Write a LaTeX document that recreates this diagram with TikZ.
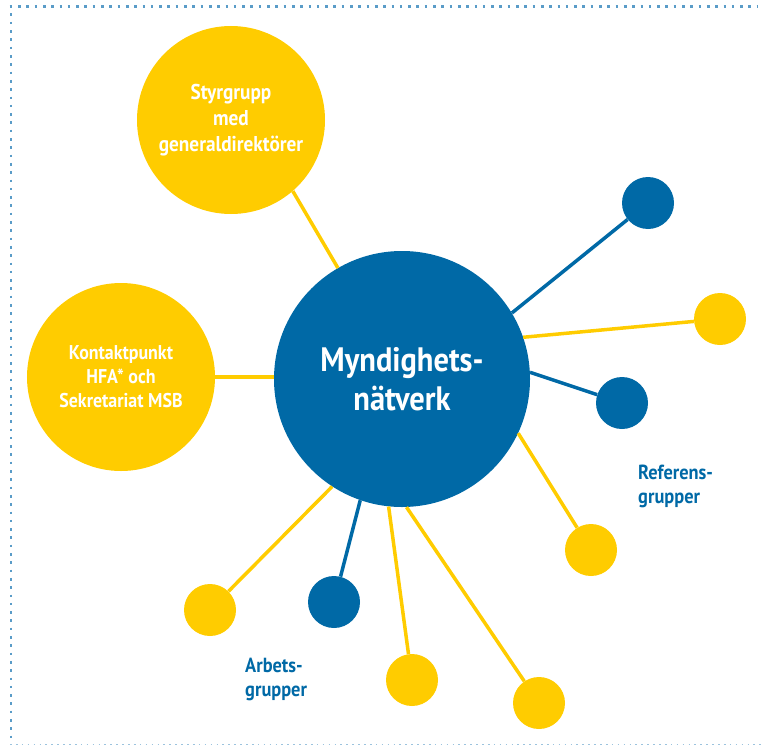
\documentclass[tikz,border=0pt]{standalone}
\usepackage{fontspec}
\setmainfont{PT Sans}[FakeStretch=0.9]
\definecolor{myyellow}{HTML}{FFCC00}
\definecolor{myblue}{HTML}{0069A6}
\definecolor{dotblue}{HTML}{5A9CC8}
\definecolor{dotlight}{HTML}{9CC3DE}
\tikzset{
  bigc/.style={circle, fill=myblue, minimum size=256bp, inner sep=0pt, text=white, align=center,
    font=\bfseries\fontsize{34}{39}\selectfont},
  midc/.style={circle, fill=myyellow, minimum size=188bp, inner sep=0pt, text=white, align=center},
  ydot/.style={circle, fill=myyellow, minimum size=52bp, inner sep=0pt},
  bdot/.style={circle, fill=myblue, minimum size=52bp, inner sep=0pt},
  conY/.style={draw=myyellow, line width=3.5bp},
  conB/.style={draw=myblue, line width=3.5bp},
  grplab/.style={text=myblue, align=left, inner sep=0pt, anchor=north west,
    font=\bfseries\fontsize{20.5}{24}\selectfont}
}
\begin{document}
\begin{tikzpicture}[x=1bp,y=-1bp]
\useasboundingbox (0,0) rectangle (761,746);
% dotted frame
\draw[dotblue, line width=2.6bp, dash pattern=on 2.6bp off 5.7bp] (9.7,6.5) -- (758,6.5);
\draw[dotblue, line width=2.6bp, dash pattern=on 2.6bp off 5.7bp] (11,5.2) -- (11,742);
\draw[dotlight, line width=1.6bp, dash pattern=on 1.6bp off 4.3bp] (10,744.5) -- (761,744.5);

% nodes
\node[bigc] (main) at (402,379) {Myndighets-\\nätverk};
\node[midc, font=\bfseries\fontsize{21.5}{26}\selectfont] (styr) at (231,120) {Styrgrupp\\med\\generaldirektörer};
\node[midc, font=\bfseries\fontsize{20}{24}\selectfont] (kont) at (121,377) {Kontaktpunkt\\HFA* och\\Sekretariat MSB};

\node[bdot] (b1) at (648,203) {};
\node[ydot] (y1) at (720,319) {};
\node[bdot] (b2) at (622,403) {};
\node[ydot] (y2) at (591,550) {};
\node[ydot] (y3) at (539,703) {};
\node[ydot] (y4) at (412,680) {};
\node[bdot] (b3) at (334,602) {};
\node[ydot] (y5) at (210,610) {};

% connectors
\draw[conY] (styr.-49) -- (main.120);
\draw[conY] (kont.east) -- (main.west |- kont.east);
\draw[conB] (main.31) -- (b1);
\draw[conY] (main.19) -- (y1);
\draw[conB] (main.3) -- (b2);
\draw[conY] (main.-25) -- (y2);
\draw[conY] (main.-88) -- (y3);
\draw[conY] (main.-96) -- (y4);
\draw[conB] (main.-109) -- (b3);
\draw[conY] (main.-123) -- (y5);

% labels
\node[grplab] (ref) at (638,465) {Referens-\\grupper};
\node[grplab] (arb) at (245,658) {Arbets-\\grupper};
\end{tikzpicture}
\end{document}
